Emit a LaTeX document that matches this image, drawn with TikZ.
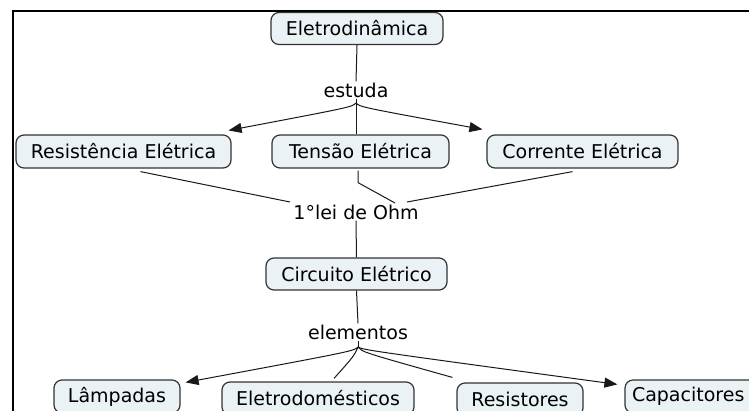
\documentclass[tikz,border=0pt]{standalone}
\usepackage{fontspec}
\setmainfont{DejaVu Sans}
\usetikzlibrary{arrows.meta,calc}
\definecolor{boxfill}{HTML}{EAF2F6}
\definecolor{boxline}{HTML}{333333}
\tikzset{
  concept/.style={draw=boxline,fill=boxfill,rounded corners=8pt,line width=1.2pt,
    minimum height=32pt,inner sep=0pt,font=\fontsize{19}{22}\selectfont,text=black},
  linklabel/.style={inner sep=1pt,font=\fontsize{19}{22}\selectfont,text=black},
  conn/.style={line width=1pt,draw=black!90},
  arr/.style={conn,-{Triangle[length=13pt,width=10pt]}},
}
\begin{document}
\begin{tikzpicture}[x=1pt,y=-1pt]
\useasboundingbox (0,0) rectangle (749,410);
\clip (0,0) rectangle (749,410);
\draw[line width=2.2pt] (13,412) -- (13,11) -- (752,11);

\node[concept,minimum width=172pt] (eletro) at (357,28.5) {Eletrodinâmica};
\node[linklabel] (estuda) at (356,90) {estuda};
\node[concept,minimum width=215pt,minimum height=33pt] (resist) at (123.5,151.5) {Resistência Elétrica};
\node[concept,minimum width=177pt,minimum height=33pt] (tensao) at (360.5,151.5) {Tensão Elétrica};
\node[concept,minimum width=191pt,minimum height=33pt] (corrente) at (582.5,151.5) {Corrente Elétrica};
\node[linklabel] (ohm) at (356,212) {1°lei de Ohm};
\node[concept,minimum width=181pt] (circuito) at (356.5,274) {Circuito Elétrico};
\node[linklabel] (elementos) at (358,332) {elementos};
\node[concept,minimum width=126pt,minimum height=33pt] (lamp) at (117,396.5) {Lâmpadas};
\node[concept,minimum width=192pt,minimum height=33pt] (eletrodom) at (318,398.5) {Eletrodomésticos};
\node[concept,minimum width=126pt,minimum height=33pt] (resistores) at (520,399.5) {Resistores};
\node[concept,minimum width=142pt,minimum height=33pt,text width=128pt,align=left] (capac) at (696,396.5) {Capacitores};

\coordinate (b1) at (356,103);
\coordinate (b2) at (358,347);

\draw[conn] (eletro.south) -- (b1 |- estuda.north);
\draw[conn] (b1 |- estuda.south) -- (b1);
\draw[arr] (b1) .. controls (352,107) .. ([xshift=-3pt,yshift=4pt]resist.north east);
\draw[conn] (b1) -- (b1 |- tensao.north);
\draw[arr] (b1) .. controls (360,107) .. ([xshift=-4pt,yshift=5pt]corrente.north west);

\draw[conn] ($(resist.south)+(17,3)$) -- ($(ohm.center)+(-66,-10)$);
\draw[conn] ($(tensao.south)+(-2.5,2)$) -- ++(0,12) -- ($(ohm.center)+(39,-9)$);
\draw[conn] ($(corrente.south)+(-10,3)$) -- ($(ohm.center)+(51,-10)$);

\draw[conn] (ohm.south) -- (circuito.north);
\draw[conn] (circuito.south) -- (b2 |- elementos.north);
\draw[conn] (b2 |- elementos.south) -- (b2);
\draw[arr] (b2) .. controls (354,351) .. ([xshift=5pt,yshift=-3pt]lamp.north east);
\draw[conn] (b2) .. controls (354,356) .. ([xshift=16pt,yshift=3pt]eletrodom.north);
\draw[conn] (b2) .. controls (362,352) .. ([xshift=-4pt,yshift=5pt]resistores.north west);
\draw[arr] (b2) .. controls (364,350) .. ([xshift=-7pt,yshift=-5pt]capac.north west);
\end{tikzpicture}
\end{document}
